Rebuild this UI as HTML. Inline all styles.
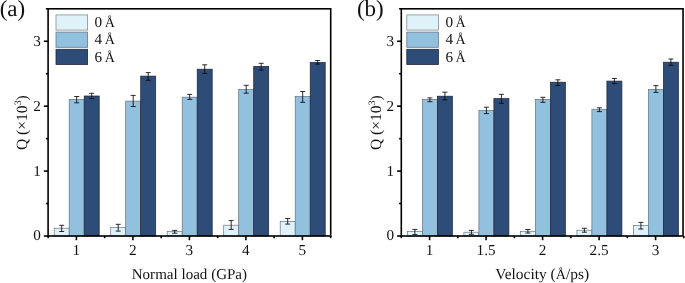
<!DOCTYPE html>
<html><head><meta charset="utf-8"><title>Figure</title>
<style>
html,body{margin:0;padding:0;background:#fff;}
body{width:685px;height:283px;overflow:hidden;}
svg{display:block;will-change:transform;}
svg text{text-rendering:geometricPrecision;font-family:"Liberation Serif","Times New Roman",serif;fill:#111;}
</style></head><body>
<svg width="685" height="283" viewBox="0 0 685 283">
<rect x="54.20" y="228.20" width="15.00" height="7.80" fill="#dff2f9" stroke="#70767a" stroke-width="0.7"/>
<rect x="69.20" y="99.40" width="15.00" height="136.60" fill="#92c0df" stroke="#64707b" stroke-width="0.7"/>
<rect x="84.20" y="96.00" width="15.00" height="140.00" fill="#2d4c78" stroke="#1b2432" stroke-width="0.7"/>
<path d="M61.70 225.30V231.50M59.20 225.30H64.20M59.20 231.50H64.20" stroke="#0a0a0a" stroke-width="0.85" fill="none"/>
<path d="M76.70 96.50V102.80M74.20 96.50H79.20M74.20 102.80H79.20" stroke="#0a0a0a" stroke-width="0.85" fill="none"/>
<path d="M91.70 93.30V98.50M89.20 93.30H94.20M89.20 98.50H94.20" stroke="#0a0a0a" stroke-width="0.85" fill="none"/>
<rect x="110.70" y="227.60" width="15.00" height="8.40" fill="#dff2f9" stroke="#70767a" stroke-width="0.7"/>
<rect x="125.70" y="101.10" width="15.00" height="134.90" fill="#92c0df" stroke="#64707b" stroke-width="0.7"/>
<rect x="140.70" y="76.10" width="15.00" height="159.90" fill="#2d4c78" stroke="#1b2432" stroke-width="0.7"/>
<path d="M118.20 224.30V231.10M115.70 224.30H120.70M115.70 231.10H120.70" stroke="#0a0a0a" stroke-width="0.85" fill="none"/>
<path d="M133.20 95.40V106.50M130.70 95.40H135.70M130.70 106.50H135.70" stroke="#0a0a0a" stroke-width="0.85" fill="none"/>
<path d="M148.20 72.60V80.30M145.70 72.60H150.70M145.70 80.30H150.70" stroke="#0a0a0a" stroke-width="0.85" fill="none"/>
<rect x="167.20" y="231.60" width="15.00" height="4.40" fill="#dff2f9" stroke="#70767a" stroke-width="0.7"/>
<rect x="182.20" y="97.20" width="15.00" height="138.80" fill="#92c0df" stroke="#64707b" stroke-width="0.7"/>
<rect x="197.20" y="69.20" width="15.00" height="166.80" fill="#2d4c78" stroke="#1b2432" stroke-width="0.7"/>
<path d="M174.70 230.40V233.20M172.20 230.40H177.20M172.20 233.20H177.20" stroke="#0a0a0a" stroke-width="0.85" fill="none"/>
<path d="M189.70 94.40V99.40M187.20 94.40H192.20M187.20 99.40H192.20" stroke="#0a0a0a" stroke-width="0.85" fill="none"/>
<path d="M204.70 64.80V73.50M202.20 64.80H207.20M202.20 73.50H207.20" stroke="#0a0a0a" stroke-width="0.85" fill="none"/>
<rect x="223.70" y="225.20" width="15.00" height="10.80" fill="#dff2f9" stroke="#70767a" stroke-width="0.7"/>
<rect x="238.70" y="89.30" width="15.00" height="146.70" fill="#92c0df" stroke="#64707b" stroke-width="0.7"/>
<rect x="253.70" y="66.40" width="15.00" height="169.60" fill="#2d4c78" stroke="#1b2432" stroke-width="0.7"/>
<path d="M231.20 220.60V229.40M228.70 220.60H233.70M228.70 229.40H233.70" stroke="#0a0a0a" stroke-width="0.85" fill="none"/>
<path d="M246.20 85.30V93.20M243.70 85.30H248.70M243.70 93.20H248.70" stroke="#0a0a0a" stroke-width="0.85" fill="none"/>
<path d="M261.20 63.30V70.10M258.70 63.30H263.70M258.70 70.10H263.70" stroke="#0a0a0a" stroke-width="0.85" fill="none"/>
<rect x="280.20" y="221.50" width="15.00" height="14.50" fill="#dff2f9" stroke="#70767a" stroke-width="0.7"/>
<rect x="295.20" y="96.60" width="15.00" height="139.40" fill="#92c0df" stroke="#64707b" stroke-width="0.7"/>
<rect x="310.20" y="62.40" width="15.00" height="173.60" fill="#2d4c78" stroke="#1b2432" stroke-width="0.7"/>
<path d="M287.70 218.50V224.10M285.20 218.50H290.20M285.20 224.10H290.20" stroke="#0a0a0a" stroke-width="0.85" fill="none"/>
<path d="M302.70 91.50V102.30M300.20 91.50H305.20M300.20 102.30H305.20" stroke="#0a0a0a" stroke-width="0.85" fill="none"/>
<path d="M317.70 60.50V64.10M315.20 60.50H320.20M315.20 64.10H320.20" stroke="#0a0a0a" stroke-width="0.85" fill="none"/>
<rect x="48.1" y="8.8" width="282.60" height="227.20" fill="none" stroke="#000" stroke-width="1.6"/>
<path d="M48.1 236.00h-4.2" stroke="#000" stroke-width="1.6"/>
<text x="40.80" y="240" text-anchor="end" font-size="15.2">0</text>
<path d="M48.1 203.54h-2.2" stroke="#000" stroke-width="1.6"/>
<path d="M48.1 171.09h-4.2" stroke="#000" stroke-width="1.6"/>
<text x="40.80" y="176" text-anchor="end" font-size="15.2">1</text>
<path d="M48.1 138.63h-2.2" stroke="#000" stroke-width="1.6"/>
<path d="M48.1 106.17h-4.2" stroke="#000" stroke-width="1.6"/>
<text x="40.80" y="111" text-anchor="end" font-size="15.2">2</text>
<path d="M48.1 73.71h-2.2" stroke="#000" stroke-width="1.6"/>
<path d="M48.1 41.26h-4.2" stroke="#000" stroke-width="1.6"/>
<text x="40.80" y="46" text-anchor="end" font-size="15.2">3</text>
<path d="M48.1 8.80h-2.2" stroke="#000" stroke-width="1.6"/>
<path d="M76.40 236.0v4.2" stroke="#000" stroke-width="1.6"/>
<text x="76.40" y="255" text-anchor="middle" font-size="15.2">1</text>
<path d="M132.90 236.0v4.2" stroke="#000" stroke-width="1.6"/>
<text x="132.90" y="255" text-anchor="middle" font-size="15.2">2</text>
<path d="M189.40 236.0v4.2" stroke="#000" stroke-width="1.6"/>
<text x="189.40" y="255" text-anchor="middle" font-size="15.2">3</text>
<path d="M245.90 236.0v4.2" stroke="#000" stroke-width="1.6"/>
<text x="245.90" y="255" text-anchor="middle" font-size="15.2">4</text>
<path d="M302.40 236.0v4.2" stroke="#000" stroke-width="1.6"/>
<text x="302.40" y="255" text-anchor="middle" font-size="15.2">5</text>
<path d="M48.15 236.0v2.2" stroke="#000" stroke-width="1.6"/>
<path d="M104.65 236.0v2.2" stroke="#000" stroke-width="1.6"/>
<path d="M161.15 236.0v2.2" stroke="#000" stroke-width="1.6"/>
<path d="M217.65 236.0v2.2" stroke="#000" stroke-width="1.6"/>
<path d="M274.15 236.0v2.2" stroke="#000" stroke-width="1.6"/>
<path d="M330.65 236.0v2.2" stroke="#000" stroke-width="1.6"/>
<text x="189.40" y="279" text-anchor="middle" font-size="15.05">Normal load (GPa)</text>
<text transform="translate(27.3,122.7) rotate(-90)" text-anchor="middle" font-size="15.6">Q (×10<tspan font-size="9.7" dy="-6.4">3</tspan><tspan dy="6.4">)</tspan></text>
<text x="-0.3" y="16" font-size="23">(a)</text>
<rect x="56.0" y="14.90" width="31.6" height="15.2" fill="#dff2f9" stroke="#888d91" stroke-width="0.8"/>
<text x="94.60" y="27" font-size="15.2">0 <tspan dx="-1.3" font-size="14.1">Å</tspan></text>
<rect x="56.0" y="32.10" width="31.6" height="15.2" fill="#92c0df" stroke="#6c7883" stroke-width="0.8"/>
<text x="94.60" y="44" font-size="15.2">4 <tspan dx="-1.3" font-size="14.1">Å</tspan></text>
<rect x="56.0" y="49.30" width="31.6" height="15.2" fill="#2d4c78" stroke="#1f2a3a" stroke-width="0.8"/>
<text x="94.60" y="62" font-size="15.2">6 <tspan dx="-1.3" font-size="14.1">Å</tspan></text>
<rect x="407.40" y="231.60" width="15.00" height="4.40" fill="#dff2f9" stroke="#70767a" stroke-width="0.7"/>
<rect x="422.40" y="99.40" width="15.00" height="136.60" fill="#92c0df" stroke="#64707b" stroke-width="0.7"/>
<rect x="437.40" y="96.20" width="15.00" height="139.80" fill="#2d4c78" stroke="#1b2432" stroke-width="0.7"/>
<path d="M414.90 229.40V234.60M412.40 229.40H417.40M412.40 234.60H417.40" stroke="#0a0a0a" stroke-width="0.85" fill="none"/>
<path d="M429.90 97.90V101.70M427.40 97.90H432.40M427.40 101.70H432.40" stroke="#0a0a0a" stroke-width="0.85" fill="none"/>
<path d="M444.90 92.20V99.80M442.40 92.20H447.40M442.40 99.80H447.40" stroke="#0a0a0a" stroke-width="0.85" fill="none"/>
<rect x="463.90" y="232.20" width="15.00" height="3.80" fill="#dff2f9" stroke="#70767a" stroke-width="0.7"/>
<rect x="478.90" y="110.50" width="15.00" height="125.50" fill="#92c0df" stroke="#64707b" stroke-width="0.7"/>
<rect x="493.90" y="98.60" width="15.00" height="137.40" fill="#2d4c78" stroke="#1b2432" stroke-width="0.7"/>
<path d="M471.40 230.40V234.30M468.90 230.40H473.90M468.90 234.30H473.90" stroke="#0a0a0a" stroke-width="0.85" fill="none"/>
<path d="M486.40 107.20V113.60M483.90 107.20H488.90M483.90 113.60H488.90" stroke="#0a0a0a" stroke-width="0.85" fill="none"/>
<path d="M501.40 94.30V103.30M498.90 94.30H503.90M498.90 103.30H503.90" stroke="#0a0a0a" stroke-width="0.85" fill="none"/>
<rect x="520.40" y="231.30" width="15.00" height="4.70" fill="#dff2f9" stroke="#70767a" stroke-width="0.7"/>
<rect x="535.40" y="99.40" width="15.00" height="136.60" fill="#92c0df" stroke="#64707b" stroke-width="0.7"/>
<rect x="550.40" y="82.20" width="15.00" height="153.80" fill="#2d4c78" stroke="#1b2432" stroke-width="0.7"/>
<path d="M527.90 229.50V233.00M525.40 229.50H530.40M525.40 233.00H530.40" stroke="#0a0a0a" stroke-width="0.85" fill="none"/>
<path d="M542.90 97.30V102.30M540.40 97.30H545.40M540.40 102.30H545.40" stroke="#0a0a0a" stroke-width="0.85" fill="none"/>
<path d="M557.90 79.80V85.60M555.40 79.80H560.40M555.40 85.60H560.40" stroke="#0a0a0a" stroke-width="0.85" fill="none"/>
<rect x="576.90" y="230.20" width="15.00" height="5.80" fill="#dff2f9" stroke="#70767a" stroke-width="0.7"/>
<rect x="591.90" y="109.30" width="15.00" height="126.70" fill="#92c0df" stroke="#64707b" stroke-width="0.7"/>
<rect x="606.90" y="81.10" width="15.00" height="154.90" fill="#2d4c78" stroke="#1b2432" stroke-width="0.7"/>
<path d="M584.40 228.30V232.20M581.90 228.30H586.90M581.90 232.20H586.90" stroke="#0a0a0a" stroke-width="0.85" fill="none"/>
<path d="M599.40 107.80V111.60M596.90 107.80H601.90M596.90 111.60H601.90" stroke="#0a0a0a" stroke-width="0.85" fill="none"/>
<path d="M614.40 78.50V83.60M611.90 78.50H616.90M611.90 83.60H616.90" stroke="#0a0a0a" stroke-width="0.85" fill="none"/>
<rect x="633.40" y="225.50" width="15.00" height="10.50" fill="#dff2f9" stroke="#70767a" stroke-width="0.7"/>
<rect x="648.40" y="89.40" width="15.00" height="146.60" fill="#92c0df" stroke="#64707b" stroke-width="0.7"/>
<rect x="663.40" y="62.20" width="15.00" height="173.80" fill="#2d4c78" stroke="#1b2432" stroke-width="0.7"/>
<path d="M640.90 222.40V229.00M638.40 222.40H643.40M638.40 229.00H643.40" stroke="#0a0a0a" stroke-width="0.85" fill="none"/>
<path d="M655.90 85.60V92.40M653.40 85.60H658.40M653.40 92.40H658.40" stroke="#0a0a0a" stroke-width="0.85" fill="none"/>
<path d="M670.90 59.00V65.30M668.40 59.00H673.40M668.40 65.30H673.40" stroke="#0a0a0a" stroke-width="0.85" fill="none"/>
<rect x="401.3" y="8.8" width="281.75" height="227.20" fill="none" stroke="#000" stroke-width="1.6"/>
<path d="M401.3 236.00h-4.2" stroke="#000" stroke-width="1.6"/>
<text x="394.00" y="240" text-anchor="end" font-size="15.2">0</text>
<path d="M401.3 203.54h-2.2" stroke="#000" stroke-width="1.6"/>
<path d="M401.3 171.09h-4.2" stroke="#000" stroke-width="1.6"/>
<text x="394.00" y="176" text-anchor="end" font-size="15.2">1</text>
<path d="M401.3 138.63h-2.2" stroke="#000" stroke-width="1.6"/>
<path d="M401.3 106.17h-4.2" stroke="#000" stroke-width="1.6"/>
<text x="394.00" y="111" text-anchor="end" font-size="15.2">2</text>
<path d="M401.3 73.71h-2.2" stroke="#000" stroke-width="1.6"/>
<path d="M401.3 41.26h-4.2" stroke="#000" stroke-width="1.6"/>
<text x="394.00" y="46" text-anchor="end" font-size="15.2">3</text>
<path d="M401.3 8.80h-2.2" stroke="#000" stroke-width="1.6"/>
<path d="M429.60 236.0v4.2" stroke="#000" stroke-width="1.6"/>
<text x="429.60" y="255" text-anchor="middle" font-size="15.2">1</text>
<path d="M486.10 236.0v4.2" stroke="#000" stroke-width="1.6"/>
<text x="486.10" y="255" text-anchor="middle" font-size="15.2">1.5</text>
<path d="M542.60 236.0v4.2" stroke="#000" stroke-width="1.6"/>
<text x="542.60" y="255" text-anchor="middle" font-size="15.2">2</text>
<path d="M599.10 236.0v4.2" stroke="#000" stroke-width="1.6"/>
<text x="599.10" y="255" text-anchor="middle" font-size="15.2">2.5</text>
<path d="M655.60 236.0v4.2" stroke="#000" stroke-width="1.6"/>
<text x="655.60" y="255" text-anchor="middle" font-size="15.2">3</text>
<path d="M401.35 236.0v2.2" stroke="#000" stroke-width="1.6"/>
<path d="M457.85 236.0v2.2" stroke="#000" stroke-width="1.6"/>
<path d="M514.35 236.0v2.2" stroke="#000" stroke-width="1.6"/>
<path d="M570.85 236.0v2.2" stroke="#000" stroke-width="1.6"/>
<path d="M627.35 236.0v2.2" stroke="#000" stroke-width="1.6"/>
<path d="M683.85 236.0v2.2" stroke="#000" stroke-width="1.6"/>
<text x="542.17" y="279" text-anchor="middle" font-size="15.45">Velocity (<tspan font-size="14.2">Å</tspan>/ps)</text>
<text transform="translate(381.0,122.7) rotate(-90)" text-anchor="middle" font-size="15.6">Q (×10<tspan font-size="9.7" dy="-6.4">3</tspan><tspan dy="6.4">)</tspan></text>
<text x="356.9" y="16" font-size="23">(b)</text>
<rect x="406.8" y="14.90" width="31.6" height="15.2" fill="#dff2f9" stroke="#888d91" stroke-width="0.8"/>
<text x="445.40" y="27" font-size="15.2">0 <tspan dx="-1.3" font-size="14.1">Å</tspan></text>
<rect x="406.8" y="32.10" width="31.6" height="15.2" fill="#92c0df" stroke="#6c7883" stroke-width="0.8"/>
<text x="445.40" y="44" font-size="15.2">4 <tspan dx="-1.3" font-size="14.1">Å</tspan></text>
<rect x="406.8" y="49.30" width="31.6" height="15.2" fill="#2d4c78" stroke="#1f2a3a" stroke-width="0.8"/>
<text x="445.40" y="62" font-size="15.2">6 <tspan dx="-1.3" font-size="14.1">Å</tspan></text>
</svg>
</body></html>
